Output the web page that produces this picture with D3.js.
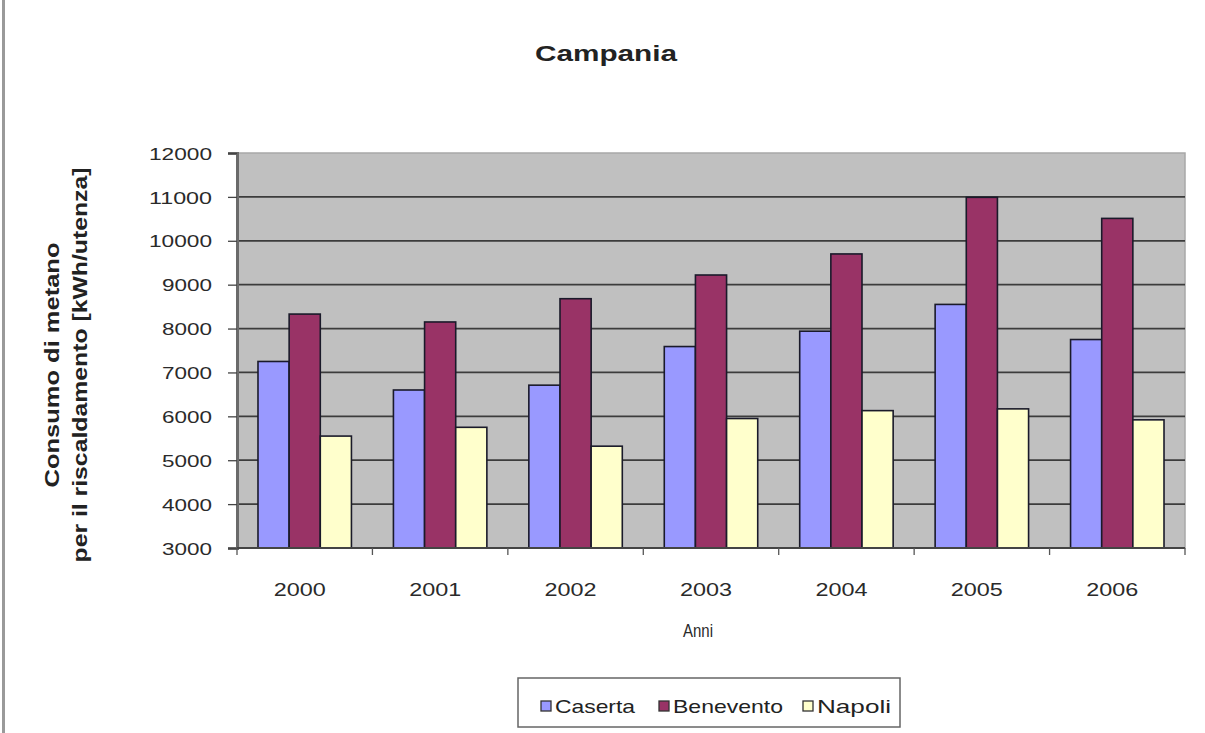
<!DOCTYPE html>
<html><head><meta charset="utf-8">
<script src="https://cdn.jsdelivr.net/npm/d3@7/dist/d3.min.js"></script>
<style>body{margin:0;background:#fff;}svg{display:block;font-family:Arial,"Liberation Sans",sans-serif;}</style>
</head><body>
<svg id="c" width="1205" height="733"></svg>
<script>
const years = ["2000","2001","2002","2003","2004","2005","2006"];
const seriesNames = ["Caserta","Benevento","Napoli"];
const caserta = [7250, 6600, 6710, 7590, 7940, 8550, 7750];
const benevento = [8330, 8150, 8680, 9220, 9700, 10990, 10510];
const napoli = [5550, 5750, 5320, 5950, 6130, 6170, 5920];
const yTicks = [3000,4000,5000,6000,7000,8000,9000,10000,11000,12000];
const colors = ["#9999ff","#993366","#ffffcc"];
const values = [caserta, benevento, napoli];

const svg = d3.select("#c");
// left border line
svg.append("line").attr("x1",3.5).attr("x2",3.5).attr("y1",0).attr("y2",733)
  .attr("stroke","#9a9a9a").attr("stroke-width",3);

const L=237, R=1185, T=153, B=548;
const x = d3.scaleBand().domain(years).range([L,R]).paddingInner(0.31).paddingOuter(0.155);
const xs = d3.scaleBand().domain(seriesNames).range([0,x.bandwidth()]);
const y = d3.scaleLinear().domain([3000,12000]).range([B,T]);

svg.append("rect").attr("x",L).attr("y",T).attr("width",R-L).attr("height",B-T)
  .attr("fill","#c0c0c0").attr("stroke","#a8a8a8").attr("stroke-width",1.5);

svg.append("g").selectAll("line").data(yTicks.slice(1,-1)).join("line")
  .attr("x1",L).attr("x2",R).attr("y1",d=>y(d)).attr("y2",d=>y(d))
  .attr("stroke","#3c3c3c").attr("stroke-width",1.8);

// bars
const g = svg.append("g");
years.forEach((yr,i)=>{
  seriesNames.forEach((s,j)=>{
    g.append("rect").attr("x",x(yr)+xs(s)).attr("y",y(values[j][i]))
      .attr("width",xs.bandwidth()).attr("height",B-y(values[j][i]))
      .attr("fill",colors[j]).attr("stroke","#1a1a2a").attr("stroke-width",1.6);
  });
});

// y axis
const ya = svg.append("g").attr("transform",`translate(${L},0)`)
  .call(d3.axisLeft(y).tickValues(yTicks).tickSize(9).tickPadding(16).tickFormat(d3.format("d")));
ya.select(".domain").attr("stroke","#6a6a6a").attr("stroke-width",3);
ya.selectAll(".tick line").attr("stroke","#444").attr("stroke-width",1.3);
ya.selectAll("text").attr("font-size",17).attr("fill","#2a2a2a").attr("dy","0.36em")
  .attr("textLength",d=>String(d).length===5?63:50).attr("lengthAdjust","spacingAndGlyphs");

// x axis
const bounds = d3.range(years.length+1).map(i=>L+i*(R-L)/years.length);
svg.append("line").attr("x1",L).attr("x2",R).attr("y1",B).attr("y2",B).attr("stroke","#444").attr("stroke-width",2);
svg.append("g").selectAll("line").data(bounds).join("line")
  .attr("x1",d=>d).attr("x2",d=>d).attr("y1",B).attr("y2",B+7).attr("stroke","#555").attr("stroke-width",1.3);
svg.append("g").selectAll("text").data(years).join("text")
  .attr("x",d=>x(d)+x.bandwidth()/2-5-26).attr("y",596)
  .attr("font-size",18).attr("fill","#2a2a2a")
  .attr("textLength",52).attr("lengthAdjust","spacingAndGlyphs").text(d=>d);

svg.append("text").attr("x",683).attr("y",637)
  .attr("font-size",18).attr("fill","#2a2a2a").attr("textLength",30).attr("lengthAdjust","spacingAndGlyphs").text("Anni");

svg.append("text").attr("x",535).attr("y",61)
  .attr("font-size",22).attr("font-weight","bold").attr("fill","#222")
  .attr("textLength",142).attr("lengthAdjust","spacingAndGlyphs").text("Campania");

svg.append("text").attr("transform","translate(59,365) rotate(-90)")
  .attr("text-anchor","middle").attr("font-size",20).attr("font-weight","bold").attr("fill","#222")
  .attr("textLength",245).attr("lengthAdjust","spacingAndGlyphs").text("Consumo di metano");
svg.append("text").attr("transform","translate(87,365) rotate(-90)")
  .attr("text-anchor","middle").attr("font-size",20).attr("font-weight","bold").attr("fill","#222")
  .attr("textLength",395).attr("lengthAdjust","spacingAndGlyphs").text("per il riscaldamento  [kWh/utenza]");

// legend
const lg = svg.append("g");
lg.append("rect").attr("x",518).attr("y",678).attr("width",382).attr("height",49)
  .attr("fill","#fff").attr("stroke","#666").attr("stroke-width",1.5);
const lx = [541, 659, 803];
const lw = [80, 110, 74];
seriesNames.forEach((s,j)=>{
  lg.append("rect").attr("x",lx[j]).attr("y",701).attr("width",10).attr("height",10)
    .attr("fill",colors[j]).attr("stroke","#333").attr("stroke-width",1.3);
  lg.append("text").attr("x",lx[j]+14).attr("y",713).attr("font-size",19).attr("fill","#222")
    .attr("textLength",lw[j]).attr("lengthAdjust","spacingAndGlyphs").text(s);
});
</script>
</body></html>
